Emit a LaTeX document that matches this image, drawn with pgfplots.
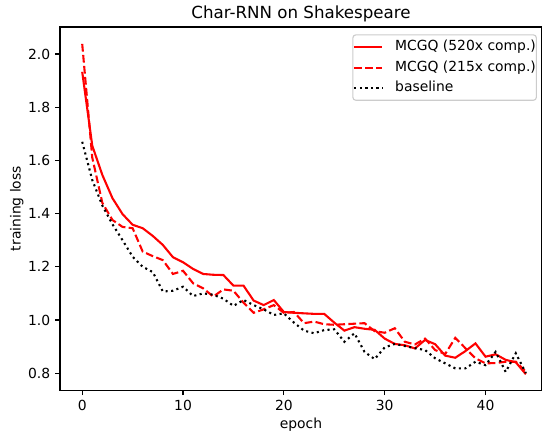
\documentclass[border=0pt]{standalone}
\usepackage{fontspec}
\setmainfont{DejaVu Sans}
\usepackage{pgfplots}
\pgfplotsset{compat=1.18}
\usepackage{pgfplotstable}

\pgfplotstableread{
e v
0 1.933
1 1.655
2 1.545
3 1.458
4 1.398
5 1.358
6 1.345
7 1.316
8 1.282
9 1.236
10 1.217
11 1.192
12 1.173
13 1.170
14 1.169
15 1.129
16 1.129
17 1.073
18 1.056
19 1.075
20 1.030
21 1.027
22 1.025
23 1.023
24 1.023
25 0.990
26 0.960
27 0.973
28 0.967
29 0.963
30 0.930
31 0.910
32 0.905
33 0.893
34 0.925
35 0.909
36 0.866
37 0.858
38 0.883
39 0.912
40 0.862
41 0.871
42 0.850
43 0.841
44 0.796
}\mcgqA

\pgfplotstableread{
e v
0 2.038
1 1.610
2 1.440
3 1.376
4 1.350
5 1.345
6 1.257
7 1.240
8 1.225
9 1.173
10 1.185
11 1.138
12 1.119
13 1.088
14 1.115
15 1.110
16 1.065
17 1.027
18 1.040
19 1.056
20 1.027
21 1.030
22 0.988
23 0.994
24 0.984
25 0.982
26 0.984
27 0.986
28 0.988
29 0.958
30 0.952
31 0.969
32 0.918
33 0.908
34 0.930
35 0.887
36 0.872
37 0.933
38 0.894
39 0.856
40 0.837
41 0.838
42 0.843
43 0.843
44 0.805
}\mcgqB

\pgfplotstableread{
e v
0 1.670
1 1.526
2 1.430
3 1.360
4 1.300
5 1.238
6 1.200
7 1.180
8 1.107
9 1.110
10 1.125
11 1.090
12 1.100
13 1.095
14 1.080
15 1.053
16 1.075
17 1.056
18 1.040
19 1.019
20 1.025
21 0.990
22 0.960
23 0.950
24 0.962
25 0.965
26 0.918
27 0.950
28 0.880
29 0.853
30 0.897
31 0.910
32 0.902
33 0.894
34 0.887
35 0.856
36 0.837
37 0.818
38 0.818
39 0.843
40 0.830
41 0.880
42 0.805
43 0.875
44 0.800
}\baseline

\begin{document}
\begin{tikzpicture}
\begin{axis}[
  at={(0pt,0pt)}, anchor=south west,
  scale only axis,
  width=346.9pt, height=261.4pt,
  xmin=-2.2, xmax=45.6,
  ymin=0.736, ymax=2.1015,
  xtick={0,10,20,30,40},
  ytick={0.8,1.0,1.2,1.4,1.6,1.8,2.0},
  /pgf/number format/assume math mode=true,
  yticklabel style={/pgf/number format/fixed, /pgf/number format/precision=1, /pgf/number format/fixed zerofill},
  tick align=outside,
  major tick length=3.5pt,
  every tick/.style={black, line width=0.8pt},
  tick pos=left,
  axis line style={line width=0.8pt},
  ticklabel style={font=\fontsize{10}{12}\selectfont},
  title={Char-RNN on Shakespeare},
  every axis title/.style={font=\fontsize{12}{14}\selectfont, at={([yshift=6pt]axis description cs:0.5,1)}, anchor=base, inner sep=0pt},
  xlabel={epoch},
  every axis x label/.style={font=\fontsize{10}{12}\selectfont, at={([yshift=-27.7pt]axis description cs:0.5,0)}, anchor=base, inner sep=0pt},
  ylabel={training loss},
  every axis y label/.style={font=\fontsize{10}{12}\selectfont, at={([xshift=-28.4pt]axis description cs:0,0.5)}, rotate=90, anchor=base, inner sep=0pt},
  legend cell align=left,
  legend image code/.code={\draw[#1] (0pt,0pt) -- (20pt,0pt);},
  legend style={
    at={(rel axis cs:1,1)}, anchor=north east, xshift=-3.7pt, yshift=-5.3pt,
    draw=black!20, line width=0.8pt, fill=white, fill opacity=0.8, text opacity=1,
    rounded corners=2pt,
    font=\fontsize{10}{12}\selectfont,
    inner xsep=0.3pt, inner ysep=1.6pt,
    row sep=0pt, column sep=8.6pt,
    nodes={inner xsep=0pt, inner ysep=0pt, text height=9.8pt, text depth=4.8pt},
  },
]
\addplot[red, line width=1.5pt] table[x=e,y=v] {\mcgqA};
\addlegendentry{MCGQ (520x comp.)}
\addplot[red, line width=1.5pt, dash pattern=on 5.55pt off 2.4pt] table[x=e,y=v] {\mcgqB};
\addlegendentry{MCGQ (215x comp.)}
\addplot[black, line width=1.5pt, dash pattern=on 1.5pt off 2.475pt] table[x=e,y=v] {\baseline};
\addlegendentry{baseline}
\end{axis}
\pgfresetboundingbox
\path[use as bounding box] (-43.2pt,-30.24pt) rectangle (346.9pt,280.84pt);
\end{tikzpicture}
\end{document}
